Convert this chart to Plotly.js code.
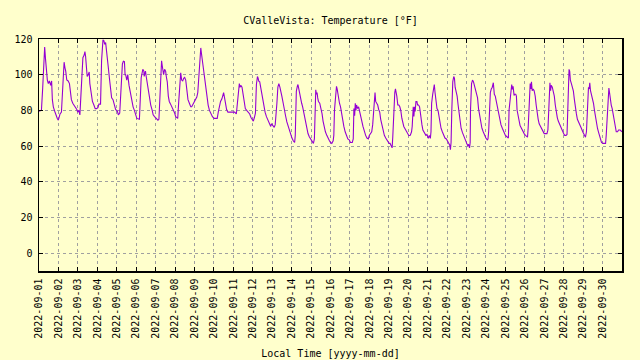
<!DOCTYPE html>
<html>
<head>
<meta charset="utf-8">
<script src="https://cdn.plot.ly/plotly-3.0.1.min.js"></script>
<style>
html,body{margin:0;padding:0;background:#ffffcc;}
#chart{width:640px;height:360px;}
</style>
</head>
<body>
<div id="chart"></div>
<script>
// Each entry: [hour of day, temperature °F]
const sep01 = [[0,79.5],[3,80],[4.5,92],[6,110],[7,115.5],[8,109],[9.5,100],[10.3,97],[11.5,95],[12.8,96.5],[14.4,94],[15.6,96.5],[16.5,86],[17.7,82],[19.4,79.5],[21,77],[22.6,75.5],[23.9,74.5]];
const sep02 = [[0.4,76],[2,78],[3.7,79],[5,90],[6,103],[7,107],[8,104],[9,102],[10.3,97],[12,96.5],[13.6,95],[14.8,90],[16,86],[17.7,84],[19.4,83],[21,82],[22.7,80.5],[23.8,79]];
const sep03 = [[1.2,80],[2.5,77.5],[3.7,87],[4.5,95.5],[6.2,109.5],[7.8,111],[8.7,113],[9.5,110.5],[10.7,100],[11.5,99],[12.8,100],[14,101.5],[14.8,95],[16.5,89],[18,85],[19.8,83],[21.4,81],[23,81]];
const sep04 = [[0.8,81.5],[2,83.5],[4,83.5],[5.3,108],[5.8,112.5],[7,119.5],[8.2,119],[9.1,117],[10.3,118],[11.1,113.5],[12.4,110.5],[13.6,104],[15.2,97],[16.5,90],[17.7,87],[19.4,86],[21,83],[22.6,80.5]];
const sep05 = [[0.8,79.5],[2,77.5],[3.7,78.5],[5.4,92.5],[7,106],[8.2,107.5],[9.5,107.3],[10.3,100],[11,100],[12.4,97],[13.6,100],[15.2,94],[16.9,89],[18.5,85],[20.2,82],[21.8,80],[23.5,77]];
const sep06 = [[0.8,75.5],[4,75],[5.4,86],[6.2,98.3],[8.2,103],[9.5,102],[9.9,99],[10.7,100],[11.5,102],[12.4,99],[13.6,95],[15.2,90],[16.9,86],[18,83],[19.8,80],[21,77.5],[22.7,76.5]];
const sep07 = [[0.8,75.5],[2.9,74.5],[4.1,75],[5.4,92],[5.8,98.3],[6.6,106],[7.4,107.8],[8.2,105],[9.1,102],[9.9,100],[11.1,103],[12.4,102],[13.2,99],[14.4,96],[15.7,88],[16.9,85],[18.5,83.5],[20.2,82],[21.8,80],[23.5,78.5]];
const sep08 = [[0.8,76.5],[2.5,75.5],[3.3,75.5],[4.5,84.5],[6.2,95],[7,101],[8.2,97],[9.5,96.5],[10.7,98],[11.9,98.5],[13.2,97],[14.4,92],[16,86],[17.7,84],[19.4,82],[20.6,82],[22.2,83.5],[23.9,85]];
const sep09 = [[1.2,86],[2.9,87.5],[4.1,90],[5.4,100],[6.6,112],[7.8,115],[8.6,112],[9.9,107],[11.1,103],[12.4,100],[14,93],[15.2,89],[16.9,83],[18.5,80],[20.2,78],[22.2,76.5]];
const sep10 = [[0.3,75.5],[2,75.5],[4.1,75.5],[5.4,79],[6.6,82],[8.2,85],[9.9,86.5],[11.1,88],[12,90],[12.8,88],[13.6,86],[14.4,83],[15.7,80.5],[17.3,79],[19,79],[21.4,79],[23.1,79]];
const sep11 = [[1.6,79],[3.7,78],[5,83],[6.2,91],[7.4,95],[8.2,93],[9.5,94],[10.7,93],[11.9,89],[13.2,85],[14.8,81],[16.5,80],[18.5,79],[20.2,78],[21.8,76],[23.5,75]];
const sep12 = [[0.7,74],[2,76],[3.3,78.5],[4.5,94.5],[5.8,99],[6.6,98],[7.4,96.4],[8.6,96],[9.9,92.6],[11.1,88],[12.4,86],[13.6,81],[15.2,79],[16.9,76.5],[18.5,74.5],[20.2,73],[22.2,71],[23.2,72.5]];
const sep13 = [[0.8,71.5],[2.5,70.5],[3.7,72],[4.5,80],[5.8,84],[7,93],[8.2,95],[9.5,93],[10.7,91],[11.9,88],[13.6,84],[14.8,80],[16.5,77],[18.1,73.5],[19.8,71],[21.4,68],[23.1,66]];
const sep14 = [[0.4,64.5],[2,63],[3.7,62],[4.5,66],[4.9,79],[5.8,90.7],[7,93.5],[7.8,94.5],[8.6,92.6],[9.9,88.8],[11.1,86],[12.4,84],[13.6,82],[14.8,79.4],[16.1,75.6],[17.3,72],[19,70],[20.2,67],[21.8,65.2],[23.5,64]];
const sep15 = [[1.2,63],[2.9,61.5],[4.1,64],[4.9,80],[5.8,91.5],[6.6,89],[7.4,90],[8.2,87],[9.1,85],[10.7,84],[11.9,82],[13.6,78],[14.8,74],[16.1,71],[17.7,68],[19.4,66],[21,64],[22.7,63]];
const sep16 = [[0.1,62],[1.6,61.5],[3.3,63],[4.1,66],[4.9,80],[6.2,90],[7.4,93.5],[8.2,92],[9.5,88],[11.1,84],[12.4,82],[13.6,78],[14.8,74],[16.5,71],[18.1,68],[19.8,66],[21.4,64],[23.1,63.5]];
const sep17 = [[0.7,62],[2.9,62],[4.1,64],[4.9,81],[5.8,77],[6.6,84],[7.4,80],[8.2,83],[9.5,81],[10.7,82],[11.9,80],[13.2,78],[14.4,74.5],[16.1,71],[17.7,68],[19.4,66],[21,64.5],[22.7,64],[23.9,66]];
const sep18 = [[1.6,67],[2.9,68],[4.1,72],[5.4,80],[6.2,85],[7,90],[7.8,85],[9.1,84],[10.3,83],[11.5,80.5],[12.8,79],[14,75],[15.2,72],[16.9,68],[18.5,66],[20.2,64.5],[21.8,63],[23.5,61.5]];
const sep19 = [[0.4,61.5],[1.6,61.5],[2.9,60.5],[4.1,59],[4.9,65],[5.8,78],[6.2,83],[7.4,90],[8.2,92],[9.1,90],[9.9,88],[11.1,83],[12.4,83],[13.6,82],[14.8,80],[16.1,75.6],[17.3,72.8],[18.5,71],[20.2,69.6],[21.8,68],[23.5,66.5]];
const sep20 = [[0.8,65.8],[2.5,66],[4.1,68],[4.9,71],[5.8,79],[6.2,82],[7,76.6],[7.8,82],[8.6,79.4],[9.5,85],[10.7,85],[11.5,83],[12.8,83],[14,82],[14.8,79.4],[15.7,74.7],[16.9,72],[18.1,69],[19.4,68],[20.6,67],[21.8,66],[23.1,66.5]];
const sep21 = [[0.8,64.3],[2,66],[3.3,64.3],[4.1,68],[4.9,84],[6.2,89],[7.4,92],[8.2,94.5],[9.1,90],[10.3,85],[11.5,81],[12.8,80],[14,76],[15.2,72],[16.5,70],[18.1,68],[19.8,66],[21.4,64.5],[23.1,64]];
const sep22 = [[1.6,62],[3.3,60.5],[4.1,58],[4.9,62],[5.8,80],[7,96],[8.2,99],[9.1,98],[9.9,93],[11.1,91],[12.4,88],[13.6,83],[14.8,78],[16.1,73],[17.3,70],[19,67.5],[20.6,65.5],[22.2,63.5],[23.9,61.5]];
const sep23 = [[1.6,60],[2.5,61],[3.7,59],[4.5,62],[4.9,80],[6.2,95],[7.4,97],[8.6,96],[9.9,94],[11.1,92],[12.4,90],[13.6,87],[14.8,81],[16.1,77],[17.3,73],[19,70],[20.6,68],[22.2,66],[23.9,64.5]];
const sep24 = [[1.6,63.5],[2.5,64],[3.3,68],[4.1,80],[5.4,90],[6.6,92],[7.8,93],[9.1,95.5],[10.3,89],[11.5,88],[13.2,84],[14.4,80],[15.7,77],[16.9,74],[18.5,72],[20.2,70],[21.8,68],[23.5,66]];
const sep25 = [[0,66],[1.2,65.5],[2.5,65],[3.7,64.5],[4.5,80],[4.9,82.2],[6.2,88.8],[7,93.5],[7.8,94.5],[8.6,91.7],[9.5,93.5],[10.7,88.4],[11.5,89],[12.8,89],[13.6,88],[14.4,80.2],[15.7,76.6],[16.9,73.7],[18.1,71.5],[19.8,70],[21,68.6],[22.2,68],[23.5,66.7]];
const sep26 = [[0.8,66],[2,65.2],[3.3,65],[4.1,70],[4.9,80],[5.8,88],[6.6,95],[7.4,92],[8.2,96],[9.1,91],[10.3,92],[11.5,91],[12.8,88],[14,83],[15.2,78],[16.5,75],[17.7,72.5],[19.4,71],[21,70],[22.7,68],[23.9,67]];
const sep27 = [[1.6,67],[3.3,67],[4.5,69],[5.4,80],[6.2,88],[7,95.5],[7.8,91],[8.6,94],[9.9,93],[11.1,91],[12.4,88],[13.6,83],[14.8,79],[16.1,76],[17.3,74],[19,72],[20.6,70],[22.2,68.5],[23.9,67]];
const sep28 = [[1.2,66],[2.9,66],[4.1,66.5],[4.9,80],[5.8,96],[6.6,103],[7.4,102],[8.2,97],[9.5,95],[10.7,93],[11.9,91],[13.2,86],[14.4,81],[15.7,78],[16.9,75],[18.5,73],[20.2,71],[21.8,70],[23.5,68]];
const sep29 = [[1.2,66],[2.9,65],[4.1,68],[4.9,80],[5.8,88],[6.6,93],[7.4,92],[8.2,95.5],[9.1,91],[10.3,89],[11.5,86],[12.8,84],[14,80],[15.2,76],[16.5,73],[17.7,70],[18.9,68],[20.2,66],[21.4,64],[22.7,62]];
const sep30 = [[0.4,61.5],[2.1,61.5],[3.7,61.5],[4.5,66],[5.4,72],[6.2,82],[7,88],[7.8,92.5],[8.6,90],[9.5,85],[10.7,83],[11.9,81],[13.2,78],[14.4,75],[15.7,71],[16.9,68],[18.5,68],[19.8,69],[21.8,69],[24,68]];

const dayLabels = ['2022-09-01','2022-09-02','2022-09-03','2022-09-04','2022-09-05','2022-09-06','2022-09-07','2022-09-08','2022-09-09','2022-09-10','2022-09-11','2022-09-12','2022-09-13','2022-09-14','2022-09-15','2022-09-16','2022-09-17','2022-09-18','2022-09-19','2022-09-20','2022-09-21','2022-09-22','2022-09-23','2022-09-24','2022-09-25','2022-09-26','2022-09-27','2022-09-28','2022-09-29','2022-09-30'];
const yTicks = [0,20,40,60,80,100,120];

const days = [sep01,sep02,sep03,sep04,sep05,sep06,sep07,sep08,sep09,sep10,sep11,sep12,sep13,sep14,sep15,sep16,sep17,sep18,sep19,sep20,sep21,sep22,sep23,sep24,sep25,sep26,sep27,sep28,sep29,sep30];

const xs = [], ys = [];
days.forEach((pts, i) => {
  const base = Date.UTC(2022, 8, 1 + i);
  pts.forEach(([h, v]) => {
    const d = new Date(base + Math.round(h * 3600000));
    xs.push(d.toISOString().slice(0, 19).replace('T', ' '));
    ys.push(v);
  });
});

const FONT = 'DejaVu Sans Mono, monospace';
const BG = '#ffffcc';

const trace = {
  type: 'scatter', mode: 'lines', x: xs, y: ys,
  line: {color: '#9400d3', width: 1.1},
  showlegend: false, hoverinfo: 'skip'
};

const layout = {
  width: 640, height: 360,
  paper_bgcolor: BG, plot_bgcolor: BG,
  margin: {l: 39, r: 18, t: 39, b: 89, pad: 0},
  font: {family: FONT, size: 10, color: '#000'},
  showlegend: false,
  title: {
    text: 'CValleVista: Temperature [°F]',
    font: {family: FONT, size: 10, color: '#000'},
    x: 0.5, xref: 'paper', xanchor: 'center',
    y: 1 - 20/360, yref: 'container', yanchor: 'middle'
  },
  xaxis: {
    type: 'date',
    range: ['2022-09-01 00:00', '2022-10-01 00:00'],
    tickmode: 'array', tickvals: dayLabels, ticktext: dayLabels,
    tickangle: -90,
    ticks: 'inside', ticklen: 4, tickcolor: '#000', tickwidth: 1,
    showline: true, linecolor: '#000', linewidth: 1.5, mirror: 'ticks',
    showgrid: true, gridcolor: '#a0a0a0', gridwidth: 1, griddash: '3px,3px',
    zeroline: false,
    ticklabelstandoff: 2,
    tickfont: {family: FONT, size: 10, color: '#000'},
    title: {text: 'Local Time [yyyy-mm-dd]', font: {family: FONT, size: 10, color: '#000'}, standoff: 12},
    automargin: false
  },
  yaxis: {
    range: [-10, 120],
    tickmode: 'array', tickvals: yTicks, ticktext: yTicks.map(String),
    ticks: 'inside', ticklen: 4, tickcolor: '#000', tickwidth: 1,
    showline: true, linecolor: '#000', linewidth: 1.5, mirror: 'ticks',
    showgrid: true, gridcolor: '#a0a0a0', gridwidth: 1, griddash: '3px,3px',
    zeroline: false,
    ticklabelstandoff: 3,
    tickfont: {family: FONT, size: 10, color: '#000'},
    automargin: false
  }
};

Plotly.newPlot('chart', [trace], layout, {displayModeBar: false, staticPlot: true});
</script>
</body>
</html>
